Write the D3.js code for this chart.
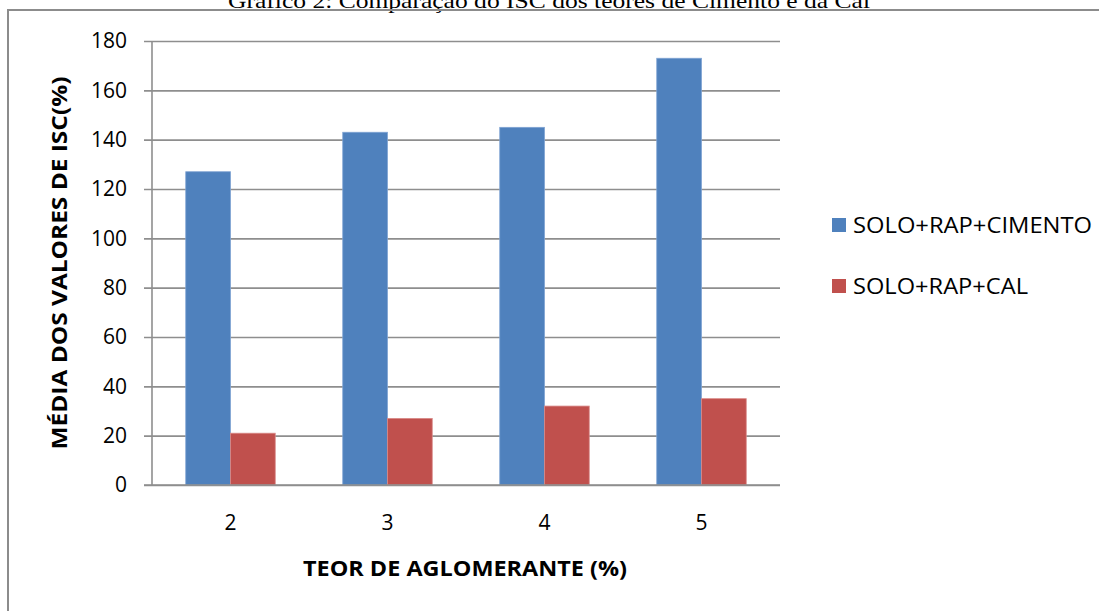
<!DOCTYPE html>
<html>
<head>
<meta charset="utf-8">
<script src="https://cdn.jsdelivr.net/npm/d3@7"></script>
<style>
  body { margin: 0; background: #fff; }
  svg { display: block; }
</style>
</head>
<body>
<script>
// データ
const categories = ["2", "3", "4", "5"];
const seriesNames = ["SOLO+RAP+CIMENTO", "SOLO+RAP+CAL"];
const cimento = [127, 143, 145, 173];
const cal = [21, 27, 32, 35];
const yTicks = [0, 20, 40, 60, 80, 100, 120, 140, 160, 180];
const colors = ["#4F81BD", "#C0504D"];

const width = 1099, height = 611;
const margin = { left: 152, right: 319, top: 41, bottom: 126 };

const svg = d3.select("body").append("svg")
  .attr("width", width).attr("height", height);

// タイトル (上が切れている)
svg.append("text")
  .attr("x", 549).attr("y", 8)
  .attr("text-anchor", "middle")
  .attr("textLength", 642).attr("lengthAdjust", "spacingAndGlyphs")
  .style("font-family", "'Liberation Serif', 'DejaVu Serif', serif")
  .style("font-size", "22px")
  .style("fill", "#000")
  .text("Gráfico 2: Comparação do ISC dos teores de Cimento e da Cal");

// 枠
svg.append("rect")
  .attr("x", 8).attr("y", 10)
  .attr("width", width).attr("height", height)
  .attr("fill", "none")
  .attr("stroke", "#8c8c8c")
  .attr("stroke-width", 2);

const x0 = d3.scaleBand()
  .domain(categories)
  .range([margin.left, width - margin.right])
  .paddingInner(0.43)
  .paddingOuter(0.215);

const x1 = d3.scaleBand()
  .domain(seriesNames)
  .range([0, x0.bandwidth()]);

const y = d3.scaleLinear()
  .domain([0, 180])
  .range([height - margin.bottom, margin.top]);

// グリッド + Y軸
const yAxis = svg.append("g")
  .attr("transform", "translate(" + margin.left + ",0)")
  .call(d3.axisLeft(y).tickValues(yTicks)
    .tickSize(-(width - margin.right - margin.left))
    .tickSizeOuter(0)
    .tickPadding(25));
yAxis.select(".domain").remove();
yAxis.selectAll(".tick line")
  .attr("x1", -8)
  .attr("stroke", "#8e8e8e")
  .attr("stroke-width", 1.6);
yAxis.selectAll(".tick text")
  .style("font-family", "'Open Sans', sans-serif")
  .style("font-size", "21px")
  .style("fill", "#000");

// 縦軸線
svg.append("line")
  .attr("x1", margin.left).attr("x2", margin.left)
  .attr("y1", y(180)).attr("y2", y(0))
  .attr("stroke", "#8e8e8e").attr("stroke-width", 1.6);

// バー
const data = categories.map((c, i) => ({ cat: c, values: [cimento[i], cal[i]] }));
const groups = svg.append("g").selectAll("g")
  .data(data).enter().append("g")
  .attr("transform", d => "translate(" + x0(d.cat) + ",0)");

groups.selectAll("rect")
  .data(d => d.values.map((v, j) => ({ name: seriesNames[j], value: v, j: j })))
  .enter().append("rect")
  .attr("x", d => x1(d.name))
  .attr("y", d => y(d.value))
  .attr("width", x1.bandwidth())
  .attr("height", d => y(0) - y(d.value))
  .attr("fill", d => colors[d.j])
  .attr("stroke", d => d.j === 0 ? "#7fa3d3" : "#d98a88")
  .attr("stroke-width", 0.8);

// X軸
const xAxis = svg.append("g")
  .attr("transform", "translate(0," + y(0) + ")")
  .call(d3.axisBottom(x0).tickSize(0).tickPadding(30));
xAxis.select(".domain")
  .attr("d", "M" + (margin.left - 8) + ",0H" + (width - margin.right))
  .attr("stroke", "#8e8e8e").attr("stroke-width", 1.6);
xAxis.selectAll(".tick text")
  .style("font-family", "'Open Sans', sans-serif")
  .style("font-size", "21px")
  .style("fill", "#000");

// 軸タイトル
svg.append("text")
  .attr("x", 465).attr("y", 576)
  .attr("text-anchor", "middle")
  .attr("textLength", 324).attr("lengthAdjust", "spacingAndGlyphs")
  .style("font-family", "'Open Sans', sans-serif")
  .style("font-weight", "bold")
  .style("font-size", "22px")
  .text("TEOR DE AGLOMERANTE (%)");

svg.append("text")
  .attr("transform", "translate(67,263) rotate(-90)")
  .attr("text-anchor", "middle")
  .attr("textLength", 373).attr("lengthAdjust", "spacingAndGlyphs")
  .style("font-family", "'Open Sans', sans-serif")
  .style("font-weight", "bold")
  .style("font-size", "22px")
  .text("MÉDIA DOS VALORES DE ISC(%)");

// 凡例
const legend = svg.append("g").selectAll("g")
  .data(seriesNames).enter().append("g")
  .attr("transform", (d, i) => "translate(832," + (218 + i * 61) + ")");
legend.append("rect")
  .attr("width", 14).attr("height", 14)
  .attr("fill", (d, i) => colors[i]);
legend.append("text")
  .attr("x", 21).attr("y", 15)
  .attr("textLength", (d, i) => i === 0 ? 239 : 175)
  .attr("lengthAdjust", "spacingAndGlyphs")
  .style("font-family", "'Open Sans', sans-serif")
  .style("font-size", "21px")
  .text(d => d);
</script>
</body>
</html>
